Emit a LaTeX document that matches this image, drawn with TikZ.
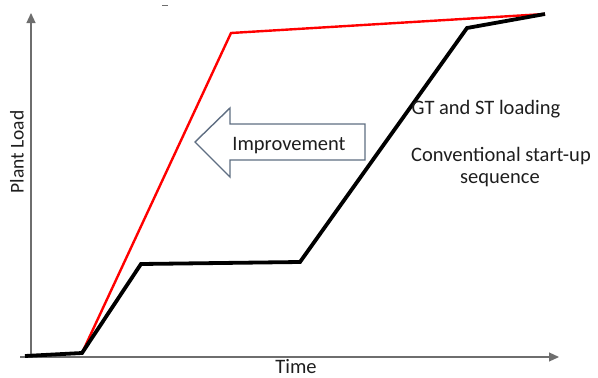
\documentclass[tikz,border=0pt]{standalone}
\usepackage{fontspec}
\setmainfont{Carlito}
\usetikzlibrary{arrows.meta}
\definecolor{axisgray}{RGB}{110,110,110}
\definecolor{arrowedge}{RGB}{95,110,130}
\definecolor{textgray}{RGB}{30,30,30}
\tikzset{
  axis/.style={draw=axisgray, line width=1.2pt, -{Triangle[length=10pt,width=9pt]}, color=axisgray},
  conv/.style={draw=black, line width=3.8pt, line join=miter},
  improved/.style={draw=red, line width=2.4pt, line join=miter},
  lbl/.style={font=\fontsize{20.5}{24}\selectfont, text=textgray, inner sep=0pt},
  blockarrow/.style={draw=arrowedge, line width=1.4pt, fill=white, line join=miter}
}
\begin{document}
\begin{tikzpicture}[x=1pt,y=-1pt]
\useasboundingbox (0,0) rectangle (598,378);
% axes
\coordinate (o) at (31,357);
\coordinate (ytop) at (31,13);
\coordinate (xl) at (20,357);
\coordinate (xr) at (559,357);
\draw[axis] (o) -- (ytop);
\draw[axis] (xl) -- (xr);
% small mark at top
\coordinate (m1) at (162,5);
\coordinate (m2) at (168,5);
\draw[axisgray, line width=0.8pt] (m1) -- (m2);
% curves
\coordinate (c0) at (25,356);
\coordinate (c1) at (82,353);
\coordinate (c2) at (141,264);
\coordinate (c3) at (300,262);
\coordinate (c4) at (467,28);
\coordinate (c5) at (545,14);
\coordinate (r1) at (231,33);
\draw[improved] (c1) -- (r1) -- (c5);
\draw[conv] (c0) -- (c1) -- (c2) -- (c3) -- (c4) -- (c5);
% block arrow
\draw[blockarrow] (195,142) -- (230,108) -- (230,124) -- (365,124) -- (365,160) -- (230,160) -- (230,177) -- cycle;
\node[lbl] (imp) at (289,146) {Improvement};
% labels
\node[lbl] (gt) at (486,109) {GT and ST loading};
\node[lbl] (cs1) at (501,156) {Conventional start-up};
\node[lbl] (cs2) at (500,180) {sequence};
\node[lbl, rotate=90, font=\fontsize{19.5}{23}\selectfont] (pl) at (17,152) {Plant Load};
\node[lbl] (tm) at (296,367) {Time};
\end{tikzpicture}
\end{document}
